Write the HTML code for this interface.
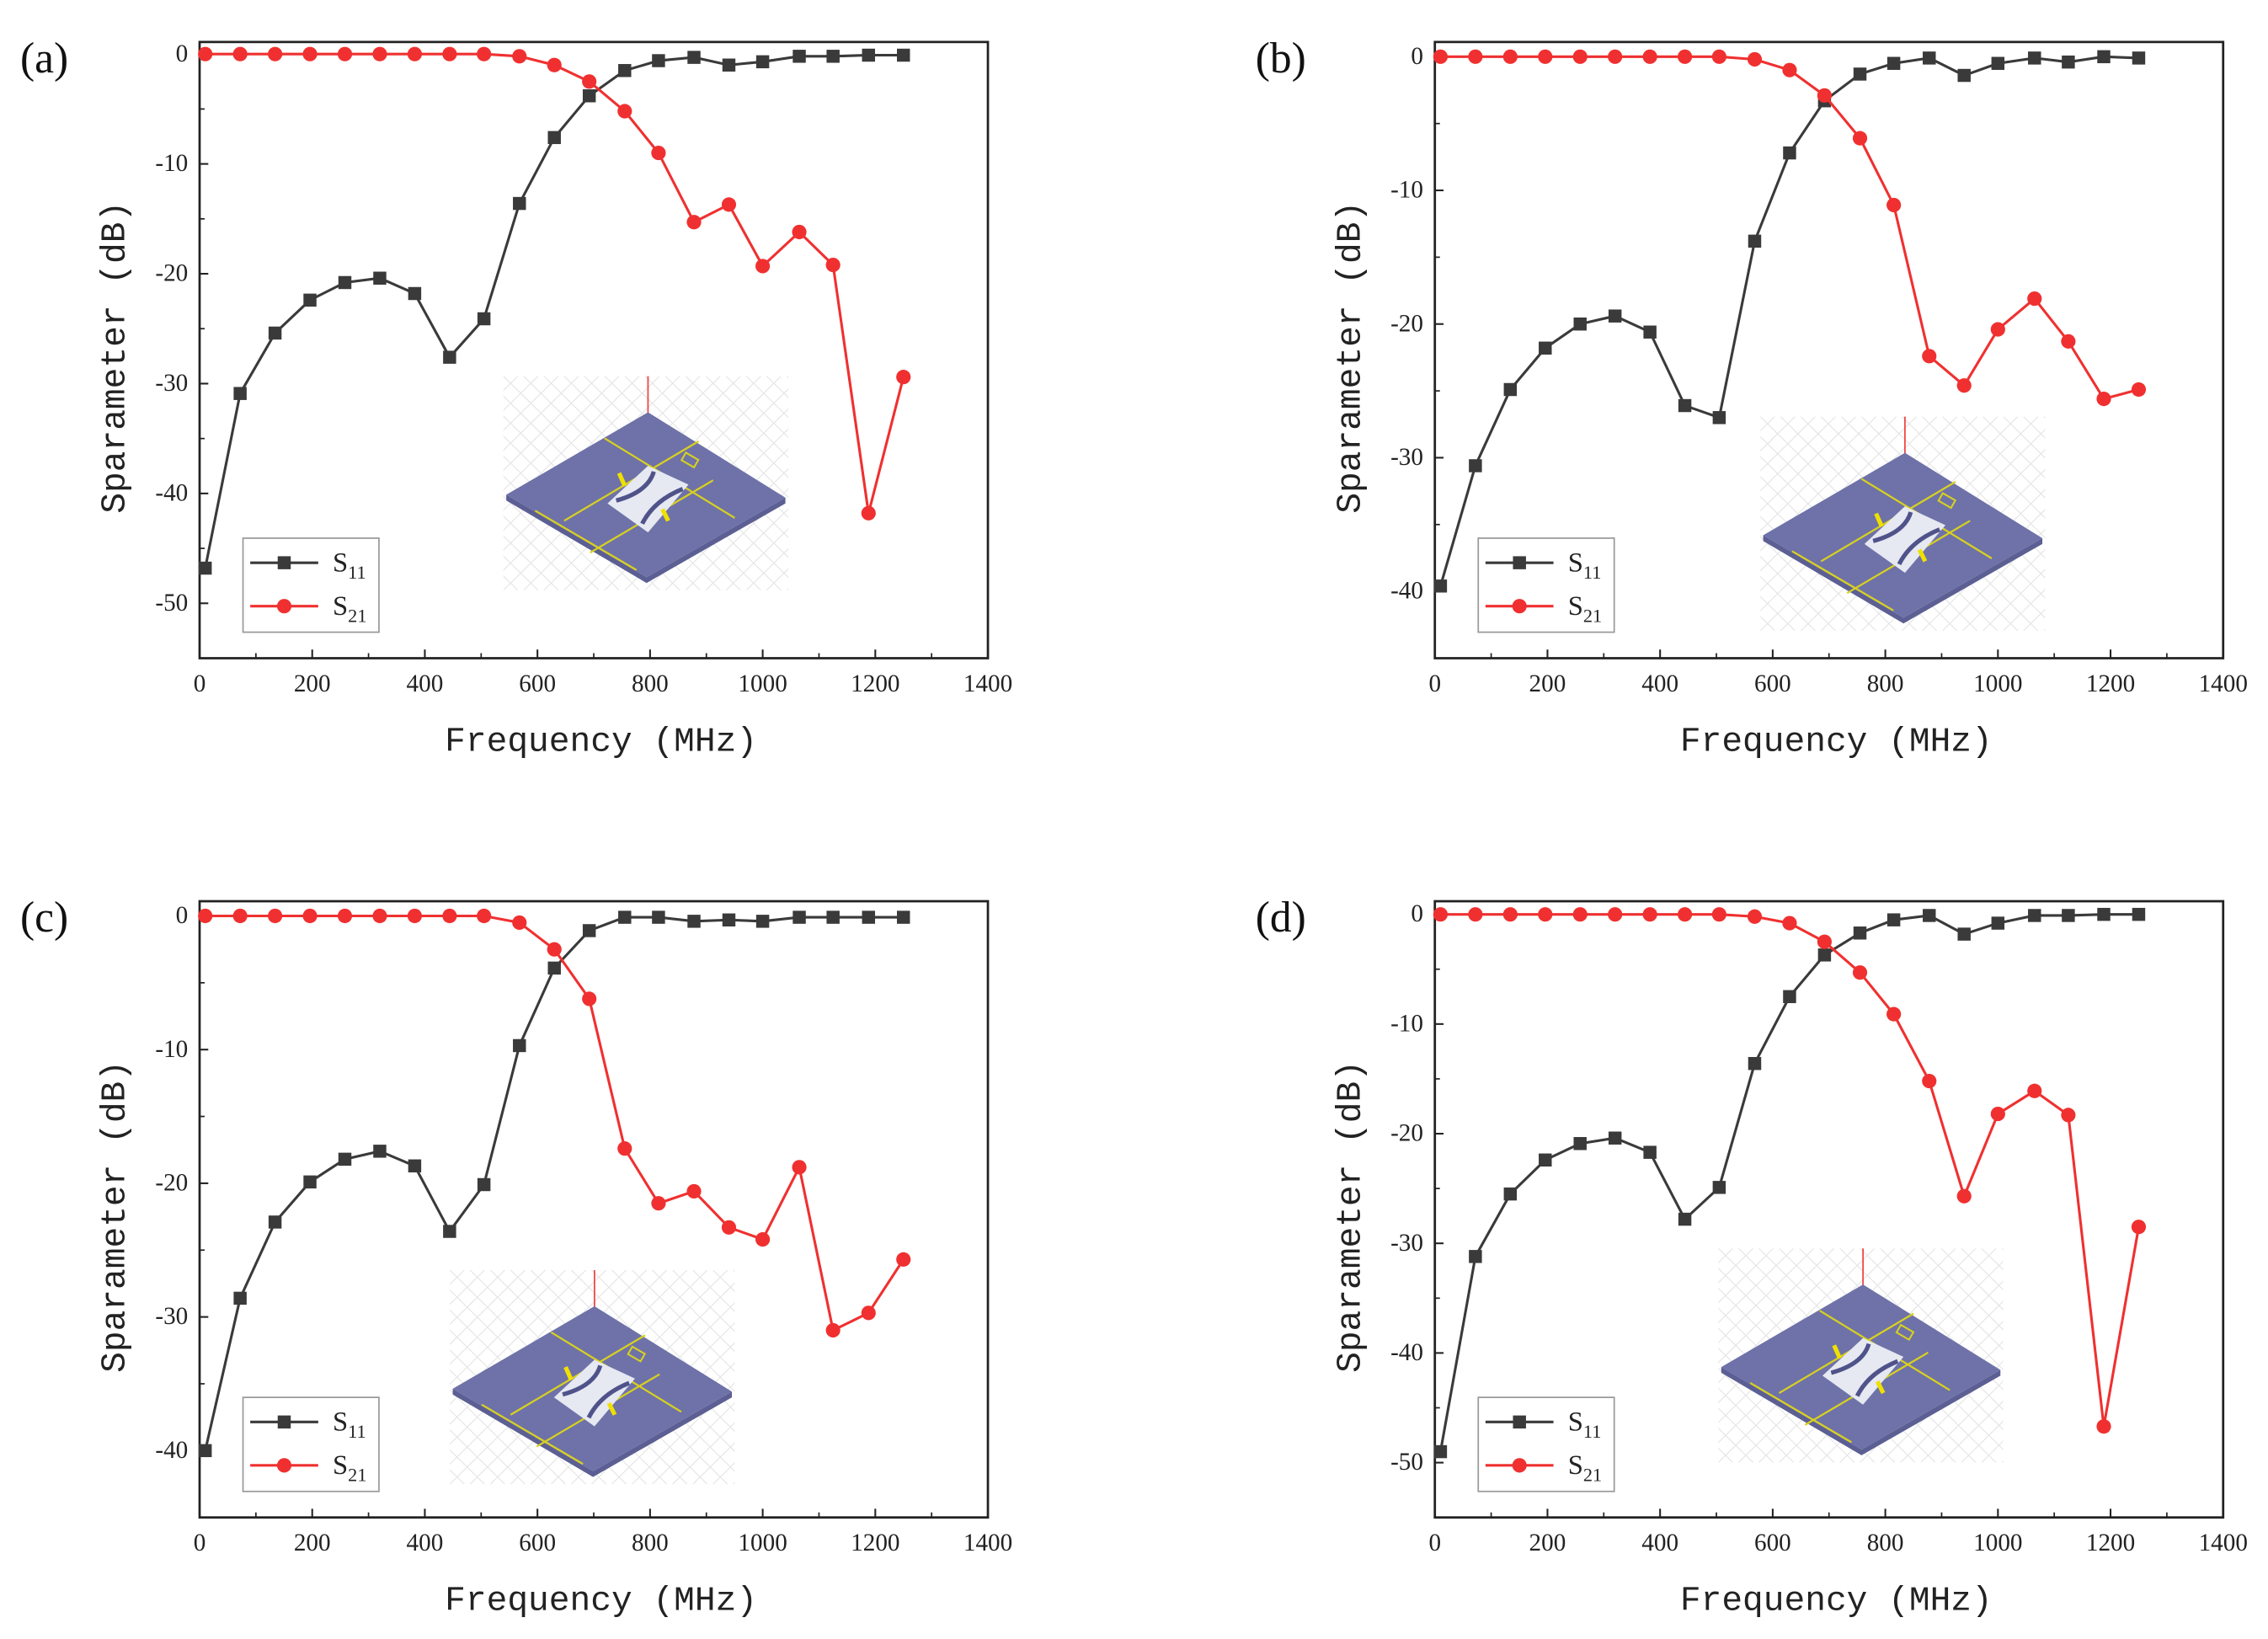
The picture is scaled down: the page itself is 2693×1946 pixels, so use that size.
<!DOCTYPE html>
<html><head><meta charset="utf-8"><style>
html,body{margin:0;padding:0;background:#fff}
svg{display:block}
</style></head><body>
<svg id="fig" width="2693" height="1946" viewBox="0 0 1568 1133" xmlns="http://www.w3.org/2000/svg"></svg>
<script>
const freqs = [10,72,134,196,258,320,382,444,505,568,630,692,755,815,878,940,1000,1065,1125,1188,1250];
const s11A = [-46.8,-30.9,-25.4,-22.4,-20.8,-20.4,-21.8,-27.6,-24.1,-13.6,-7.6,-3.8,-1.5,-0.6,-0.3,-1.0,-0.7,-0.2,-0.2,-0.1,-0.1];
const s21A = [0,0,0,0,0,0,0,0,0,-0.2,-1.0,-2.5,-5.2,-9.0,-15.3,-13.7,-19.3,-16.2,-19.2,-41.8,-29.4];
const s11B = [-39.6,-30.6,-24.9,-21.8,-20.0,-19.4,-20.6,-26.1,-27.0,-13.8,-7.2,-3.3,-1.3,-0.5,-0.1,-1.4,-0.5,-0.1,-0.4,0,-0.1];
const s21B = [0,0,0,0,0,0,0,0,0,-0.2,-1.0,-2.9,-6.1,-11.1,-22.4,-24.6,-20.4,-18.1,-21.3,-25.6,-24.9];
const s11C = [-40,-28.6,-22.9,-19.9,-18.2,-17.6,-18.7,-23.6,-20.1,-9.7,-3.9,-1.1,-0.1,-0.1,-0.4,-0.3,-0.4,-0.1,-0.1,-0.1,-0.1];
const s21C = [0,0,0,0,0,0,0,0,0,-0.5,-2.5,-6.2,-17.4,-21.5,-20.6,-23.3,-24.2,-18.8,-31.0,-29.7,-25.7];
const s11D = [-49,-31.2,-25.5,-22.4,-20.9,-20.4,-21.7,-27.8,-24.9,-13.6,-7.5,-3.7,-1.7,-0.5,-0.1,-1.8,-0.8,-0.1,-0.1,0,0];
const s21D = [0,0,0,0,0,0,0,0,0,-0.2,-0.8,-2.5,-5.3,-9.1,-15.2,-25.7,-18.2,-16.1,-18.3,-46.7,-28.5];
const xTicks = [0,200,400,600,800,1000,1200,1400];
const yTicksAD = [0,-10,-20,-30,-40,-50];
const yTicksBC = [0,-10,-20,-30,-40];

const NS='http://www.w3.org/2000/svg';
const svg=document.getElementById('fig');
function mk(tag,attrs,parent){const e=document.createElementNS(NS,tag);for(const k in attrs)e.setAttribute(k,attrs[k]);(parent||svg).appendChild(e);return e;}
const defs=mk('defs',{});
const cp=mk('clipPath',{id:'insclip'},defs);
mk('rect',{x:0,y:0,width:197,height:148},cp);

const panels=[
 {id:'a',label:'(a)',x0:138,y0:29,s11:s11A,s21:s21A,ymin:-55,ymax:1.1,yt:yTicksAD,ins:[348,260]},
 {id:'b',label:'(b)',x0:992,y0:29,s11:s11B,s21:s21B,ymin:-45,ymax:1.1,yt:yTicksBC,ins:[1217,288]},
 {id:'c',label:'(c)',x0:138,y0:623,s11:s11C,s21:s21C,ymin:-45,ymax:1.1,yt:yTicksBC,ins:[311,878]},
 {id:'d',label:'(d)',x0:992,y0:623,s11:s11D,s21:s21D,ymin:-55,ymax:1.2,yt:yTicksAD,ins:[1188,863]}
];
const W=545,H=426;

function drawInset(g,ox,oy){
  const ig=mk('g',{transform:`translate(${ox},${oy})`},g);
  
  
  const gg=mk('g',{'clip-path':'url(#insclip)'},ig);
  for(let i=-12;i<=16;i++){
    mk('line',{x1:i*14,y1:0,x2:i*14+150,y2:148,stroke:'#e6e6e6','stroke-width':0.7},gg);
    mk('line',{x1:i*14,y1:148,x2:i*14+150,y2:0,stroke:'#e6e6e6','stroke-width':0.7},gg);
  }
  mk('line',{x1:100,y1:0,x2:100,y2:26,stroke:'#f04040','stroke-width':1},ig);
  mk('polygon',{points:'2,82 2,86 99,143 195,88 195,84 99,139',fill:'#5c5f93'},ig);
  mk('polygon',{points:'2,82 100,25 195,84 99,139',fill:'#6e72a8'},ig);
  const y='#d8d020';
  mk('polyline',{points:'70,43 160,98',stroke:y,fill:'none','stroke-width':1.3},ig);
  mk('polyline',{points:'42,100 135,45',stroke:y,fill:'none','stroke-width':1.3},ig);
  mk('polyline',{points:'22,93 92,134',stroke:y,fill:'none','stroke-width':1.3},ig);
  mk('polyline',{points:'60,122 145,72',stroke:y,fill:'none','stroke-width':1.3},ig);
  mk('polygon',{points:'72,88 100,62 128,75 100,108',fill:'#e6e8f2'},ig);
  mk('path',{d:'M78,86 Q100,80 104,66 M96,102 Q104,86 124,78',stroke:'#50538a',fill:'none','stroke-width':3},ig);
  mk('line',{x1:80,y1:67,x2:84,y2:76,stroke:'#f0e000','stroke-width':3},ig);
  mk('line',{x1:110,y1:92,x2:114,y2:100,stroke:'#f0e000','stroke-width':3},ig);
  mk('rect',{x:124,y:55,width:10,height:6,fill:'none',stroke:y,'stroke-width':1.2,transform:'rotate(30 129 58)'},ig);
}

panels.forEach(p=>{
  const g=mk('g',{});
  
  
  const X=v=>p.x0+v/1400*W;
  const Y=v=>p.y0+(p.ymax-v)/(p.ymax-p.ymin)*H;
  const lab=mk('text',{x:p.x0-124,y:p.y0+21,'font-family':'Liberation Serif, serif','font-size':30,fill:'#111'},g);
  lab.textContent=p.label;
  
  
  drawInset(g,p.ins[0],p.ins[1]);
  const fr=mk('rect',{x:p.x0,y:p.y0,width:W,height:H,fill:'none',stroke:'#222','stroke-width':1.6},g);
  
  
  xTicks.forEach((t,i)=>{
    mk('line',{x1:X(t),y1:p.y0+H,x2:X(t),y2:p.y0+H-6,stroke:'#222','stroke-width':1.2},g);
    if(i<xTicks.length-1) mk('line',{x1:X(t+100),y1:p.y0+H,x2:X(t+100),y2:p.y0+H-3.5,stroke:'#222','stroke-width':1},g);
    const tx=mk('text',{x:X(t),y:p.y0+H+23,'text-anchor':'middle','font-family':'Liberation Serif, serif','font-size':17,fill:'#222'},g);
    tx.textContent=t;
    
    
  });
  p.yt.forEach(t=>{
    mk('line',{x1:p.x0,y1:Y(t),x2:p.x0+6,y2:Y(t),stroke:'#222','stroke-width':1.2},g);
    mk('line',{x1:p.x0,y1:Y(t-5),x2:p.x0+3.5,y2:Y(t-5),stroke:'#222','stroke-width':1},g);
    const ty=mk('text',{x:p.x0-8,y:Y(t)+5,'text-anchor':'end','font-family':'Liberation Serif, serif','font-size':17,fill:'#222'},g);
    ty.textContent=t;
    
    
  });
  const xt=mk('text',{x:p.x0+W/2+5,y:p.y0+H+64,'text-anchor':'middle','font-family':'Liberation Mono, monospace','font-size':24,fill:'#222'},g);
  xt.textContent='Frequency (MHz)';
  
  
  const cy=p.y0+H/2+5;
  const yt=mk('text',{x:p.x0-52,y:cy,'text-anchor':'middle','font-family':'Liberation Mono, monospace','font-size':24,fill:'#222',transform:`rotate(-90 ${p.x0-52} ${cy})`},g);
  yt.textContent='Sparameter (dB)';
  
  
  [[p.s11,'#3a3a3a','sq','s11'],[p.s21,'#f03030','ci','s21']].forEach(([arr,col,m,nm])=>{
    const pl=mk('polyline',{points:arr.map((v,i)=>X(freqs[i])+','+Y(v)).join(' '),fill:'none',stroke:col,'stroke-width':1.8},g);
    
    
    arr.forEach((v,i)=>{
      let e;
      if(m==='sq') e=mk('rect',{x:X(freqs[i])-4.5,y:Y(v)-4.5,width:9,height:9,fill:col},g);
      else e=mk('circle',{cx:X(freqs[i]),cy:Y(v),r:5,fill:col},g);
      
      
    });
  });
  const lx=p.x0+30,ly=p.y0+343;
  const lg=mk('g',{},g);
  
  
  mk('rect',{x:lx,y:ly,width:94,height:65,fill:'#fff',stroke:'#999','stroke-width':1},lg);
  [['#3a3a3a','sq','11',ly+17],['#f03030','ci','21',ly+47]].forEach(([col,m,sub,yy])=>{
    mk('line',{x1:lx+5,y1:yy,x2:lx+52,y2:yy,stroke:col,'stroke-width':1.8},lg);
    if(m==='sq') mk('rect',{x:lx+24,y:yy-4.5,width:9,height:9,fill:col},lg);
    else mk('circle',{cx:lx+28.5,cy:yy,r:5,fill:col},lg);
    const t=mk('text',{x:lx+62,y:yy+6,'font-family':'Liberation Serif, serif','font-size':19,fill:'#222'},lg);
    t.innerHTML='S<tspan font-size="13" dy="5">'+sub+'</tspan>';
    
    
  });
});
</script>
</body></html>
